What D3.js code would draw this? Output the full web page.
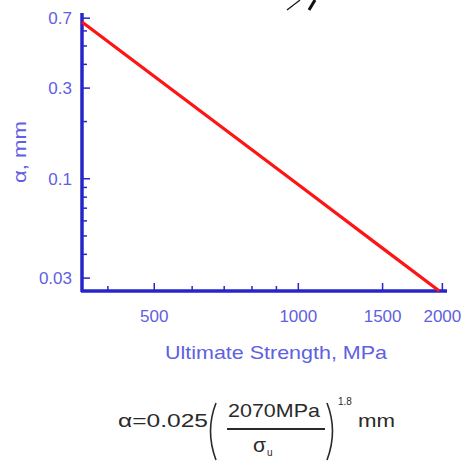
<!DOCTYPE html>
<html><head><meta charset="utf-8">
<script src="https://cdn.jsdelivr.net/npm/d3@7"></script>
<style>body{margin:0;background:#fff}svg{display:block}</style>
</head><body>
<script>
// Data
const strength = [354, 500, 1000, 1500, 1976];      // MPa
const alphaMM  = [0.665, 0.345, 0.093, 0.043, 0.0255]; // mm
const xMajor = [500, 1000, 1500, 2000];
const xMinor = [400, 600, 700, 800, 900];
const yMajor = [0.7, 0.3, 0.1, 0.03];
const yMinor = [0.6, 0.5, 0.4, 0.2, 0.09, 0.08, 0.07, 0.06, 0.05, 0.04];

const W = 475, H = 464;
const svg = d3.select("body").append("svg").attr("width", W).attr("height", H);

const x = d3.scaleLog().domain([354, 2050]).range([82, 447]);
const y = d3.scaleLog().domain([0.0255, 0.741]).range([291, 13]);

const axisColor = "#2626c8", labelColor = "#6060e2";
const font = "'Liberation Sans', Arial, sans-serif";

// x axis (ticks pointing inside)
const gx = svg.append("g").attr("transform", `translate(0,${y.range()[0]})`);
gx.call(d3.axisBottom(x).tickValues(xMajor).tickSize(-8).tickPadding(0).tickFormat(d3.format("d")));
gx.append("g").call(d3.axisBottom(x).tickValues(xMinor).tickSize(-5).tickFormat(""));
gx.selectAll(".domain").remove();
gx.selectAll("line").attr("stroke", axisColor).attr("stroke-width", 1.5);
gx.selectAll("text").attr("fill", labelColor).attr("font-family", font).attr("font-size", 17)
  .attr("y", 31).attr("dy", 0);
gx.append("line").attr("x1", x.range()[0]-1).attr("x2", x.range()[1]).attr("y1", 0).attr("y2", 0)
  .attr("stroke", axisColor).attr("stroke-width", 3.5);

// y axis
const gy = svg.append("g").attr("transform", `translate(${x.range()[0]},0)`);
gy.call(d3.axisLeft(y).tickValues(yMajor).tickSize(-8).tickPadding(0).tickFormat(d => String(d)));
gy.append("g").call(d3.axisLeft(y).tickValues(yMinor).tickSize(-5).tickFormat(""));
gy.selectAll(".domain").remove();
gy.selectAll("line").attr("stroke", axisColor).attr("stroke-width", 1.5);
gy.selectAll("text").attr("fill", labelColor).attr("font-family", font).attr("font-size", 17)
  .attr("x", -10).attr("dy", "0.35em");
gy.append("line").attr("x1", 0).attr("x2", 0).attr("y1", y.range()[0]+1).attr("y2", y.range()[1])
  .attr("stroke", axisColor).attr("stroke-width", 3.5);

// data line
const pts = strength.map((s, i) => [s, alphaMM[i]]);
svg.append("path").datum(pts)
  .attr("d", d3.line().x(d => x(d[0])).y(d => y(d[1])))
  .attr("fill", "none").attr("stroke", "#ff1414").attr("stroke-width", 3.2);

// axis titles
svg.append("text").attr("x", 276).attr("y", 359).attr("text-anchor", "middle")
  .attr("font-family", font).attr("font-size", 19).attr("fill", labelColor)
  .attr("textLength", 222).attr("lengthAdjust", "spacingAndGlyphs")
  .text("Ultimate Strength, MPa");
svg.append("text").attr("transform", "translate(26,152) rotate(-90)").attr("text-anchor", "middle")
  .attr("font-family", font).attr("font-size", 19).attr("fill", labelColor)
  .attr("textLength", 62).attr("lengthAdjust", "spacingAndGlyphs")
  .text("α, mm");

// fragment at top
svg.append("path").attr("d", "M287,10 L300,0").attr("stroke", "#111").attr("stroke-width", 1.2);
svg.append("path").attr("d", "M309,10 L315,0").attr("stroke", "#111").attr("stroke-width", 3);

// formula
const fc = "#2a2a2a";
const f = svg.append("g").attr("font-family", font).attr("fill", fc);
f.append("text").attr("x", 118).attr("y", 427).attr("font-size", 19)
  .attr("textLength", 90).attr("lengthAdjust", "spacingAndGlyphs").text("α=0.025");
f.append("text").attr("x", 228).attr("y", 417).attr("font-size", 19)
  .attr("textLength", 92).attr("lengthAdjust", "spacingAndGlyphs").text("2070MPa");
f.append("line").attr("x1", 227).attr("x2", 325).attr("y1", 429).attr("y2", 429)
  .attr("stroke", fc).attr("stroke-width", 1.8);
f.append("text").attr("x", 253).attr("y", 452).attr("font-size", 21).text("σ");
f.append("text").attr("x", 267).attr("y", 456).attr("font-size", 10).text("u");
f.append("text").attr("x", 338).attr("y", 405).attr("font-size", 10).text("1.8");
f.append("text").attr("x", 358).attr("y", 427).attr("font-size", 19)
  .attr("textLength", 37).attr("lengthAdjust", "spacingAndGlyphs").text("mm");
f.append("path").attr("d", "M216,403 Q205,431 216,460").attr("fill", "none").attr("stroke", fc).attr("stroke-width", 1.6);
f.append("path").attr("d", "M327,403 Q338,431 327,460").attr("fill", "none").attr("stroke", fc).attr("stroke-width", 1.6);
</script>
</body></html>
